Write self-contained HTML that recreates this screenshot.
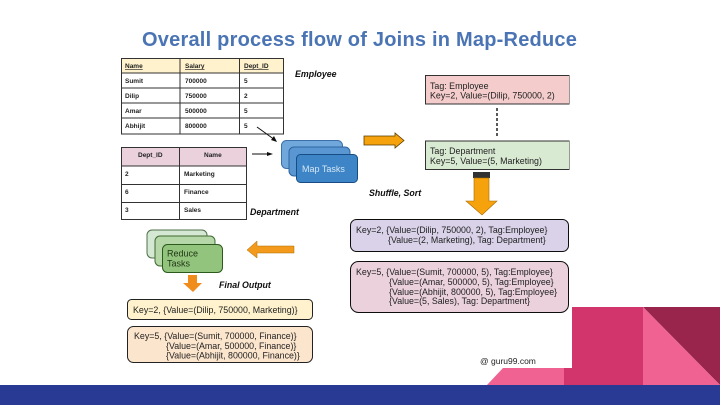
<!DOCTYPE html>
<html><head><meta charset="utf-8"><style>
html,body{margin:0;padding:0;background:#fff;width:720px;height:405px;overflow:hidden}
svg{display:block}
text{font-family:"Liberation Sans",sans-serif;fill:#222}
.t{font-size:6.5px;font-weight:bold}
.c{font-size:8.850px;fill:#222}
.l{font-size:8.800px;font-weight:bold;font-style:italic;fill:#111}
</style></head><body>
<svg width="720" height="405" viewBox="0 0 720 405" xmlns="http://www.w3.org/2000/svg">
<defs><filter id="b" x="0" y="0" width="100%" height="100%"><feGaussianBlur stdDeviation="0.36"/></filter></defs>
<rect width="720" height="405" fill="#fff"/>
<polygon points="487,385 503,368 564,368 564,385" fill="#f06292"/>
<rect x="564" y="368" width="80" height="17" fill="#d2356b"/>
<rect x="572" y="307" width="71" height="78" fill="#d2356b"/>
<polygon points="643,307 720,307 720,385" fill="#99244c"/>
<polygon points="643,307 720,385 643,385" fill="#f06292"/>
<rect y="385" width="720" height="20" fill="#283a93"/>
<text x="142" y="46" font-size="20" font-weight="bold" style="fill:#4a74b4;letter-spacing:.22px">Overall process flow of Joins in Map-Reduce</text>

<g filter="url(#b)">
<!-- Employee table -->
<rect x="121" y="58" width="163" height="15" fill="#fff2cc"/>
<g stroke="#333" stroke-width="1" fill="none">
<rect x="121.500" y="58.500" width="162" height="75.500"/>
<path d="M121 73H284M121 88H284M121 103H284M121 118H284M180 58V134M239.500 58V134"/>
</g>
<text class="t" x="125" y="68" text-decoration="underline">Name</text>
<text class="t" x="185" y="68" text-decoration="underline">Salary</text>
<text class="t" x="244" y="68" text-decoration="underline">Dept_ID</text>
<text class="t" x="125" y="83">Sumit</text><text class="t" x="185" y="83">700000</text><text class="t" x="244" y="83">5</text>
<text class="t" x="125" y="98">Dilip</text><text class="t" x="185" y="98">750000</text><text class="t" x="244" y="98">2</text>
<text class="t" x="125" y="113">Amar</text><text class="t" x="185" y="113">500000</text><text class="t" x="244" y="113">5</text>
<text class="t" x="125" y="128">Abhijit</text><text class="t" x="185" y="128">800000</text><text class="t" x="244" y="128">5</text>
<text class="l" x="295" y="77">Employee</text>

<!-- Department table -->
<rect x="121" y="147" width="126" height="19" fill="#ead1dc"/>
<g stroke="#333" stroke-width="1" fill="none">
<rect x="121.500" y="147.500" width="125" height="72"/>
<path d="M121 166H247M121 184.500H247M121 202.500H247M179.500 147V220"/>
</g>
<text class="t" x="138" y="157">Dept_ID</text><text class="t" x="204" y="157">Name</text>
<text class="t" x="125" y="176">2</text><text class="t" x="184" y="176">Marketing</text>
<text class="t" x="125" y="194">6</text><text class="t" x="184" y="194">Finance</text>
<text class="t" x="125" y="212">3</text><text class="t" x="184" y="212">Sales</text>
<text class="l" x="250" y="215">Department</text>

<!-- thin arrows -->
<path d="M257 127L275 140" stroke="#111" stroke-width="1"/><polygon points="277,142 271,140 274,136" fill="#111"/>
<path d="M252 154H270" stroke="#111" stroke-width="1"/><polygon points="273,154 267,152 267,156" fill="#111"/>

<!-- Map tasks -->
<rect x="281.500" y="140.500" width="61" height="28" rx="5" fill="#6fa8dc" stroke="#3d6fa8"/>
<rect x="289" y="147" width="61" height="29" rx="5" fill="#5a96d2" stroke="#2f65a0"/>
<rect x="296.500" y="154.500" width="61" height="28" rx="4" fill="#3d85c6" stroke="#174e85"/>
<text x="302" y="172" font-size="9" style="fill:#d5e6f5">Map Tasks</text>

<!-- Orange arrows -->
<polygon points="364,136 395,136 395,133 404,140.500 395,148 395,145 364,145" fill="#f5a20a" stroke="#5a3e00" stroke-width=".8"/>
<rect x="473" y="172" width="17" height="6" fill="#333"/>
<polygon points="474,178 489,178 489,201 497,201 482,215 466,201 474,201" fill="#f5a20a" stroke="#a86a00" stroke-width=".6"/>
<polygon points="294,246 257,246 257,241 247,250 257,258 257,253 294,253" fill="#f39a1e" stroke="#a86a00" stroke-width=".5"/>
<polygon points="188,275 197,275 197,283 202,283 193,292 183,283 188,283" fill="#f08c1a"/>

<!-- Tag boxes -->
<rect x="425.500" y="75.500" width="144" height="28.500" fill="#f4cccc" stroke="#333"/>
<text class="c" x="430" y="89">Tag: Employee</text>
<text class="c" x="430" y="98.500">Key=2, Value=(Dilip, 750000, 2)</text>
<path d="M497 108V136" stroke="#222" stroke-width="1.500" stroke-dasharray="3,2"/>
<rect x="425.500" y="141" width="144" height="28.500" fill="#d9ead3" stroke="#333"/>
<text class="c" x="430" y="154">Tag: Department</text>
<text class="c" x="430" y="164">Key=5, Value=(5, Marketing)</text>
<text class="l" x="369" y="196">Shuffle, Sort</text>

<!-- Grouped -->
<rect x="350.500" y="219.500" width="218" height="32" rx="6" fill="#d9d2e9" stroke="#111"/>
<text class="c" x="356" y="233">Key=2, {Value=(Dilip, 750000, 2), Tag:Employee}</text>
<text class="c" x="388" y="243">{Value=(2, Marketing), Tag: Department}</text>
<rect x="350.500" y="261.500" width="218" height="51" rx="8" fill="#ead1dc" stroke="#111"/>
<text class="c" x="356" y="275">Key=5, {Value=(Sumit, 700000, 5), Tag:Employee}</text>
<text class="c" x="389" y="285">{Value=(Amar, 500000, 5), Tag:Employee}</text>
<text class="c" x="389" y="295">{Value=(Abhijit, 800000, 5), Tag:Employee}</text>
<text class="c" x="389" y="304">{Value=(5, Sales), Tag: Department}</text>

<!-- Reduce tasks -->
<rect x="147" y="230" width="60" height="28" rx="5" fill="#d5e8d4" stroke="#4f6f4a"/>
<rect x="155" y="236" width="60" height="30" rx="5" fill="#b6d7a8" stroke="#3f6a32"/>
<rect x="162.500" y="244.500" width="60" height="28" rx="5" fill="#93c47d" stroke="#2a5a1c"/>
<text x="167" y="256.500" font-size="9" style="fill:#1e3414">Reduce</text>
<text x="167" y="266.500" font-size="9" style="fill:#1e3414">Tasks</text>
<text class="l" x="219" y="288">Final Output</text>

<!-- Output -->
<rect x="127.500" y="299.500" width="185" height="20" rx="4" fill="#fff2cc" stroke="#222"/>
<text class="c" x="133" y="313">Key=2, {Value=(Dilip, 750000, Marketing)}</text>
<rect x="127.500" y="326.500" width="185" height="36" rx="6" fill="#fce5cd" stroke="#222"/>
<text class="c" x="134" y="339">Key=5, {Value=(Sumit, 700000, Finance)}</text>
<text class="c" x="166" y="349">{Value=(Amar, 500000, Finance)}</text>
<text class="c" x="166" y="358.500">{Value=(Abhijit, 800000, Finance)}</text>

<text x="480" y="364" font-size="8.500" style="fill:#222">@ guru99.com</text>
</g>
</svg>
</body></html>
